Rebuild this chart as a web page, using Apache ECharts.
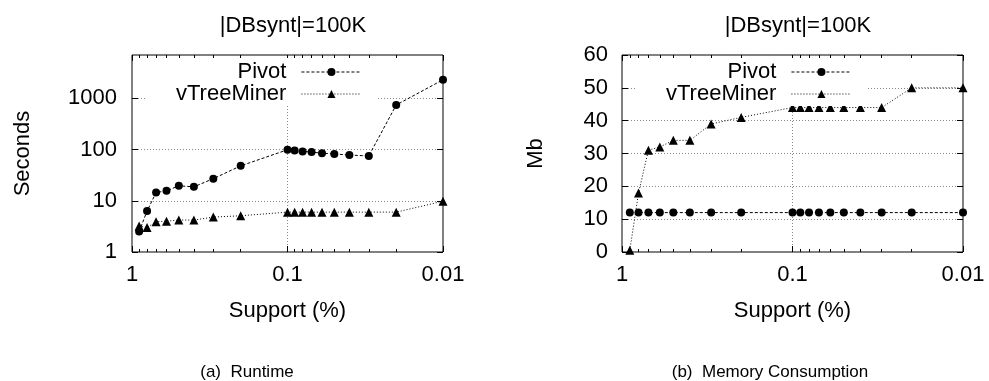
<!DOCTYPE html>
<html>
<head>
<meta charset="utf-8">
<script src="https://cdn.jsdelivr.net/npm/echarts@6/dist/echarts.min.js"></script>
<style>
  html, body { margin: 0; padding: 0; background: #fff; }
  #main { width: 989px; height: 381px; }
</style>
</head>
<body>
<div id="main"></div>
<script>
// support thresholds (%), shared by both plots
var support = [0.9, 0.8, 0.7, 0.6, 0.5, 0.4, 0.3, 0.2, 0.1, 0.09, 0.08, 0.07, 0.06, 0.05, 0.04, 0.03, 0.02, 0.01];

// (a) runtime, seconds
var pivotTime = [2.5, 6.3, 14.5, 15.6, 19.6, 18.7, 27, 48, 99, 96, 92, 89, 85, 82, 78, 75, 740, 2300];
var vtreeTime = [3.2, 3.0, 3.9, 4.0, 4.2, 4.2, 4.8, 5.1, 6, 6, 6, 6, 6, 6, 6, 6, 6, 9.8];

// (b) memory, Mb
var pivotMem = [12, 12, 12, 12, 12, 12, 12, 12, 12, 12, 12, 12, 12, 12, 12, 12, 12, 12];
var vtreeMem = [0.5, 18, 31, 32, 34, 34, 39, 41, 44, 44, 44, 44, 44, 44, 44, 44, 50, 50];

var xMajor = [1, 0.1, 0.01];
var xMinor = [0.9, 0.8, 0.7, 0.6, 0.5, 0.4, 0.3, 0.2, 0.09, 0.08, 0.07, 0.06, 0.05, 0.04, 0.03, 0.02];
var yTimeTicks = [1, 10, 100, 1000];

var font = 'Liberation Sans';
var black = '#000';

function pairs(xs, ys) {
  return xs.map(function (x, i) { return [x, ys[i]]; });
}

function plain(v) {
  return String(+(+v).toPrecision(3));
}

function xAxes(grid) {
  var base = {
    type: 'log', logBase: 10, inverse: true, min: 0.01, max: 1, gridIndex: grid,
    axisLine: { show: false },
    axisLabel: { show: false },
    splitLine: { show: false }
  };
  var bottom = Object.assign({}, base, {
    position: 'bottom',
    name: 'Support (%)', nameLocation: 'middle', nameGap: 48,
    nameTextStyle: { fontFamily: font, fontSize: 22, color: black },
    axisTick: { inside: true, length: 6, customValues: xMajor, lineStyle: { color: black } },
    axisLabel: {
      show: true, customValues: xMajor, margin: 12,
      fontFamily: font, fontSize: 22, color: black, formatter: plain
    },
    splitLine: { show: true, lineStyle: { color: '#888', type: [1, 2] } }
  });
  var bottomMinor = Object.assign({}, base, {
    position: 'bottom',
    axisTick: { inside: true, length: 3, customValues: xMinor, lineStyle: { color: black } }
  });
  var top = Object.assign({}, base, {
    position: 'top',
    axisTick: { inside: true, length: 6, customValues: xMajor, lineStyle: { color: black } }
  });
  var topMinor = Object.assign({}, base, {
    position: 'top',
    axisTick: { inside: true, length: 3, customValues: xMinor, lineStyle: { color: black } }
  });
  return [bottom, bottomMinor, top, topMinor];
}

var tickStyle = { inside: true, length: 6, lineStyle: { color: black } };

var yAxes = [
  {
    type: 'log', logBase: 10, min: 1, max: 7000, gridIndex: 0, position: 'left',
    name: 'Seconds', nameLocation: 'middle', nameGap: 98,
    nameTextStyle: { fontFamily: font, fontSize: 22, color: black },
    axisLine: { show: false },
    axisTick: Object.assign({ customValues: yTimeTicks }, tickStyle),
    axisLabel: { customValues: yTimeTicks, margin: 15, fontFamily: font, fontSize: 22, color: black, formatter: plain },
    splitLine: { show: true, lineStyle: { color: '#888', type: [1, 2] } }
  },
  {
    type: 'log', logBase: 10, min: 1, max: 7000, gridIndex: 0, position: 'right',
    axisLine: { show: false },
    axisTick: Object.assign({ customValues: yTimeTicks }, tickStyle),
    axisLabel: { show: false },
    splitLine: { show: false }
  },
  {
    type: 'value', min: 0, max: 60, interval: 10, gridIndex: 1, position: 'left',
    name: 'Mb', nameLocation: 'middle', nameGap: 75,
    nameTextStyle: { fontFamily: font, fontSize: 22, color: black },
    axisLine: { show: false },
    axisTick: tickStyle,
    axisLabel: { margin: 14, fontFamily: font, fontSize: 22, color: black },
    splitLine: { show: true, lineStyle: { color: '#888', type: [1, 2] } }
  },
  {
    type: 'value', min: 0, max: 60, interval: 10, gridIndex: 1, position: 'right',
    axisLine: { show: false },
    axisTick: tickStyle,
    axisLabel: { show: false },
    splitLine: { show: false }
  }
];

function legendAt(left) {
  return {
    left: left, top: 58, orient: 'vertical', align: 'right',
    itemWidth: 60, itemHeight: 10, itemGap: 0,
    padding: [3, 15, 1, 31],
    backgroundColor: '#fff',
    lineStyle: { width: 1 },
    textStyle: { fontFamily: font, fontSize: 22, color: black, lineHeight: 22, padding: [0, 10, 0, 0] },
    data: ['Pivot', 'vTreeMiner']
  };
}

function lineSeries(name, symbol, dash, xi, yi, data) {
  return {
    name: name, type: 'line', xAxisIndex: xi, yAxisIndex: yi,
    symbol: symbol, symbolSize: symbol === 'circle' ? 8 : 9,
    itemStyle: { color: black },
    lineStyle: { color: black, width: 1, type: dash },
    data: data
  };
}

var chart = echarts.init(document.getElementById('main'), null, { renderer: 'canvas' });

var option = {
  animation: false,
  backgroundColor: '#fff',
  title: [
    { text: '|DBsynt|=100K', left: 288, top: 10, textAlign: 'center',
      textStyle: { fontFamily: font, fontSize: 22, fontWeight: 'normal', color: black } },
    { text: '|DBsynt|=100K', left: 793, top: 10, textAlign: 'center',
      textStyle: { fontFamily: font, fontSize: 22, fontWeight: 'normal', color: black } },
    { text: '(a)  Runtime', left: 242, top: 359, textAlign: 'center',
      textStyle: { fontFamily: font, fontSize: 17, fontWeight: 'normal', color: black } },
    { text: '(b)  Memory Consumption', left: 765, top: 359, textAlign: 'center',
      textStyle: { fontFamily: font, fontSize: 17, fontWeight: 'normal', color: black } }
  ],
  legend: [legendAt(145), legendAt(635)],
  grid: [
    { left: 132, right: 546, top: 55, bottom: 129, show: true, borderColor: black, borderWidth: 1 },
    { left: 622, right: 26, top: 55, bottom: 129, show: true, borderColor: black, borderWidth: 1 }
  ],
  xAxis: xAxes(0).concat(xAxes(1)),
  yAxis: yAxes,
  series: [
    lineSeries('Pivot', 'circle', [3, 2], 0, 0, pairs(support, pivotTime)),
    lineSeries('vTreeMiner', 'triangle', [1, 2], 0, 0, pairs(support, vtreeTime)),
    lineSeries('Pivot', 'circle', [3, 2], 4, 2, pairs(support, pivotMem)),
    lineSeries('vTreeMiner', 'triangle', [1, 2], 4, 2, pairs(support, vtreeMem))
  ]
};

chart.setOption(option);
window.addEventListener('resize', function () {
  chart.resize();
});
</script>
</body>
</html>
